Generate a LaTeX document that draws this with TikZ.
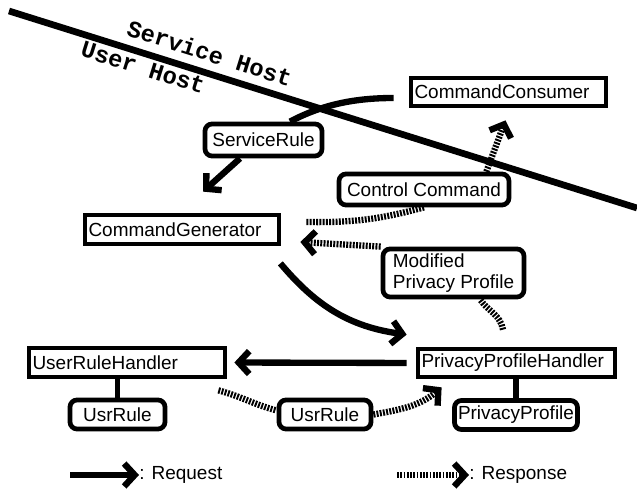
\documentclass[tikz,border=0pt]{standalone}
\usepackage{fontspec}
\setmainfont{Liberation Sans}
\newfontfamily\hostfont{Liberation Mono}
\usetikzlibrary{arrows.meta}

\begin{document}
\begin{tikzpicture}[x=0.02cm, y=0.02cm,
    box/.style={draw, line width=2.7pt, inner xsep=2pt, inner ysep=0pt, align=left,
      font=\fontsize{10.8}{11.6}\selectfont},
    rbox/.style={box, rounded corners=4pt, align=center},
    req/.style={line width=3.6pt, -{Straight Barb[length=6pt,width=13pt]}},
    res/.style={req, dash pattern=on 1.1pt off 0.75pt},
    reqline/.style={line width=3.6pt},
    resline/.style={reqline, dash pattern=on 1.1pt off 0.75pt},
    link/.style={line width=3.4pt},
    divider/.style={line width=3.8pt},
    hostlabel/.style={font=\hostfont\fontsize{13.5}{14}\selectfont\bfseries, inner sep=0pt, sloped},
    legend/.style={font=\fontsize{10.8}{11.6}\selectfont, inner sep=0pt, anchor=west}]

    \useasboundingbox (0,0) rectangle (637,-489);

    % Frontiere entre les hotes
    \coordinate (hl) at (9,-11);
    \coordinate (hr) at (637,-208);
    \draw[divider] (hl) -- (hr)
        node[hostlabel, pos=0.31, above=0.16cm] {Service Host}
        node[hostlabel, pos=0.22, below=0.05cm] {User Host};

    % Composants
    \node[box, text width=3.76cm, minimum height=0.56cm] (cc) at (508.5,-92) {CommandConsumer};
    \node[rbox, minimum width=2.34cm, minimum height=0.64cm] (sr) at (263.5,-140) {ServiceRule};
    \node[rbox, minimum width=3.4cm, minimum height=0.62cm] (ctl) at (424,-189.5) {Control Command};
    \node[box, text width=3.74cm, minimum height=0.58cm] (cg) at (182,-229.5) {CommandGenerator};
    \node[rbox, align=left, minimum width=2.82cm, minimum height=0.96cm] (mpp) at (453.5,-273) {Modified\\Privacy Profile};
    \node[box, text width=3.78cm, minimum height=0.58cm] (urh) at (127,-362.5) {UserRuleHandler};
    \node[box, text width=3.8cm, minimum height=0.56cm] (pph) at (516.5,-363) {PrivacyProfileHandler};
    \node[rbox, minimum width=1.9cm, minimum height=0.58cm] (ur1) at (117.5,-414.5) {UsrRule};
    \node[rbox, minimum width=1.84cm, minimum height=0.58cm] (ur2) at (325,-414.5) {UsrRule};
    \node[rbox, minimum width=2.4cm, minimum height=0.58cm] (pp) at (516,-415) {PrivacyProfile};

    % Donnees des handlers
    \draw[link] (ur1.north) -- (ur1.north |- urh.south);
    \draw[link] (pp.north) -- (pp.north |- pph.south);

    % Requetes
    \draw[reqline] ([shift={(-15,-6)}]cc.west) to[out=180,in=28,looseness=0.9] ([shift={(26.5,0)}]sr.north);
    \draw[req] ([shift={(-23.5,0)}]sr.south) -- ([shift={(21,21)}]cg.north);
    \draw[req] ([shift={(-1,-17)}]cg.south east) to[out=-50,in=172] ([shift={(-9,12)}]pph.north west);
    \draw[req, shorten <=0.18cm, shorten >=0.14cm] (pph.west) -- (urh.east);

    % Reponses
    \draw[resline] ([shift={(25,7.5)}]cg.east) to[bend right=8] (ctl.south);
    \draw[res] ([shift={(-25,0)}]ctl.north east) -- ([shift={(-3,-12)}]cc.south);
    \draw[resline] ([shift={(-13.5,17)}]pph.north) to[out=100,in=-55] ([shift={(26.5,0)}]mpp.south);
    \draw[res] (mpp.north west) -- ([shift={(19,-12.5)}]cg.east);
    \draw[resline] ([shift={(-9,-11)}]urh.south east) to[out=-15,in=165] ([shift={(0,4)}]ur2.west);
    \draw[res] (ur2.east) to[out=10,in=220] ([shift={(26,-8)}]pph.south west);

    % Legende
    \node[legend] (lreq) at (139,-475) {: Request};
    \node[legend] (lres) at (469,-475) {: Response};
    \coordinate (lreqs) at (70,-475);
    \coordinate (lress) at (397,-475);
    \draw[req] (lreqs) -- (lreq.west);
    \draw[res] (lress) -- (lres.west);
\end{tikzpicture}
\end{document}
